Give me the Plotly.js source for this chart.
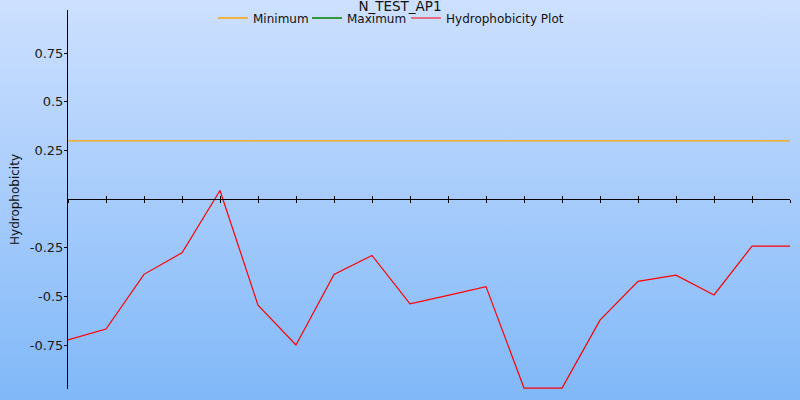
<!DOCTYPE html>
<html>
<head>
<meta charset="utf-8">
<script src="https://cdn.plot.ly/plotly-3.0.1.min.js"></script>
<style>
  html, body { margin: 0; padding: 0; }
  #chart { width: 800px; height: 400px; background: linear-gradient(to bottom, #cde0ff 0%, #80b8f8 100%); }
</style>
</head>
<body>
<div id="chart"></div>
<script>
// ---- data ----
const chartTitle = "N_TEST_AP1";
const positions = [0, 1, 2, 3, 4, 5, 6, 7, 8, 9, 10, 11, 12, 13, 14, 15, 16, 17, 18, 19];
const hydrophobicity = [-0.723, -0.667, -0.386, -0.275, 0.045, -0.544, -0.749, -0.386, -0.289, -0.538,
                        -0.494, -0.449, -0.97, -0.97, -0.621, -0.422, -0.390, -0.492, -0.241, -0.241];
const minimumX = [0, 19];
const minimumY = [0.3, 0.3];
const maximumX = [0, 19];
const maximumY = [1.0, 1.0];
const yTickVals = [-0.75, -0.5, -0.25, 0.25, 0.5, 0.75];
const yTickText = ["-0.75", "-0.5", "-0.25", "0.25", "0.5", "0.75"];
const yRange = [-0.975, 0.972];
const xRange = [0, 19];

const FONT = "DejaVu Sans, Verdana, sans-serif";
const zeroPos = (0 - yRange[0]) / (yRange[1] - yRange[0]);

const traces = [
  { x: minimumX, y: minimumY, name: "Minimum", mode: "lines", line: { color: "#ffa500", width: 1.3 }, hoverinfo: "skip", legend: "legend" },
  { x: maximumX, y: maximumY, name: "Maximum", mode: "lines", line: { color: "#008000", width: 1.3 }, xaxis: "x2", hoverinfo: "skip", legend: "legend2" },
  { x: positions, y: hydrophobicity, name: "Hydrophobicity Plot", mode: "lines", line: { color: "#ff0000", width: 1.2 }, legend: "legend3" }
];

const baseX = {
  range: xRange, showgrid: false, zeroline: false, showticklabels: false,
  tick0: 0, dtick: 1, tickcolor: "#000", tickwidth: 1, ticklen: 3,
  anchor: "free", position: zeroPos
};

function legendAt(textLeftPx) {
  return { orientation: "h", xref: "container", yref: "container", x: (textLeftPx - 40) / 800, xanchor: "left",
           y: 0.955, yanchor: "middle", bgcolor: "rgba(0,0,0,0)", borderwidth: 0,
           font: { family: FONT, size: 12, color: "#111" } };
}

const layout = {
  width: 800, height: 400,
  paper_bgcolor: "rgba(0,0,0,0)", plot_bgcolor: "rgba(0,0,0,0)",
  margin: { l: 68, r: 10, t: 10, b: 11, autoexpand: false },
  font: { family: FONT, size: 13, color: "#1a1a1a" },
  title: { text: chartTitle, xref: "container", x: 0.5, xanchor: "center", yref: "container", y: 0.984, yanchor: "middle",
           font: { family: FONT, size: 13.5, color: "#111" } },
  showlegend: true,
  legend: legendAt(253),
  legend2: legendAt(347),
  legend3: legendAt(446),
  xaxis: Object.assign({}, baseX, { showline: true, linecolor: "#000", linewidth: 1, ticks: "outside" }),
  xaxis2: Object.assign({}, baseX, { overlaying: "x", showline: false, ticks: "inside", side: "bottom" }),
  yaxis: {
    range: yRange, showgrid: false, zeroline: false, showline: true, linecolor: "#000", linewidth: 1,
    ticks: "outside", ticklen: 3, tickcolor: "#000", tickvals: yTickVals, ticktext: yTickText,
    ticklabelstandoff: -2,
    tickfont: { family: FONT, size: 13, color: "#1a1a1a" },
    title: { text: "Hydrophobicity", font: { family: FONT, size: 12, color: "#111" }, standoff: 7 },
    automargin: false
  },
  hovermode: false
};

Plotly.newPlot("chart", traces, layout, { displayModeBar: false, staticPlot: true });
</script>
</body>
</html>
